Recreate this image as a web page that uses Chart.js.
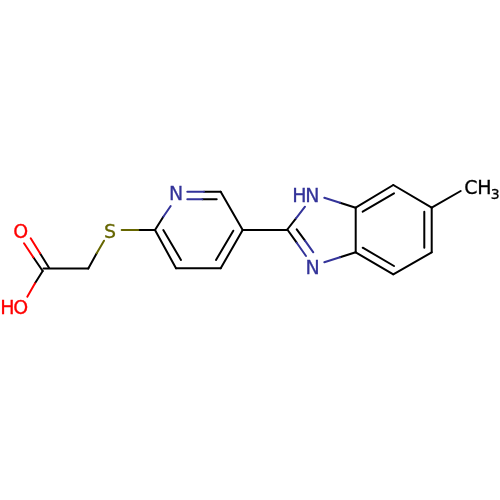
<!DOCTYPE html>
<html>
<head>
<meta charset="utf-8">
<script src="https://cdn.jsdelivr.net/npm/chart.js"></script>
<style>
  html, body { margin: 0; padding: 0; background: #fff; }
  canvas { display: block; }
</style>
</head>
<body>
<canvas id="myChart" width="500" height="500"></canvas>
<script>
// bonds, [x1, y1, x2, y2], one list per colour
const blackBonds = [
  [43.5, 268.5, 88.3, 268.5],
  [42.7, 271, 35, 283.3],
  [42.7, 271, 33.3, 257.3],
  [49, 267.7, 40, 253.3],
  [88.3, 268.5, 96.7, 253.3],
  [138.3, 230, 155, 230],
  [155, 230, 163.3, 216.7],
  [155, 230, 176, 268.3],
  [163.3, 230, 181, 260],
  [176, 268.3, 220.7, 268.3],
  [220.7, 268.3, 242.7, 230],
  [216, 260, 233.3, 230.7],
  [242.7, 230, 220.7, 191.7],
  [220.7, 191.7, 204, 191.7],
  [216.7, 199.3, 202.3, 199.3],
  [242.7, 230, 287.3, 230],
  [287.3, 229.5, 296, 218.3],
  [287.3, 229.5, 296.7, 242.7],
  [296.7, 229.3, 305, 240.7],
  [340, 202.7, 355.7, 207.7],
  [340, 257.3, 355.7, 252.3],
  [355.7, 207.7, 355.7, 252.3],
  [355.7, 207.7, 393.3, 185],
  [362.7, 211.7, 394, 193.3],
  [393.3, 185, 431.7, 207.7],
  [431.7, 207.7, 431.7, 252.3],
  [424.3, 211.7, 424.3, 247.7],
  [431.7, 252.3, 393.3, 274.3],
  [394, 266, 362.7, 247.7],
  [393.3, 274.3, 355.7, 252.3],
  [431.7, 207.7, 460.7, 191]
];
const blueBonds = [
  [163.3, 216.7, 170.7, 206],
  [187.3, 191.7, 204, 191.7],
  [187.3, 199.3, 202.3, 199.3],
  [296, 218.3, 305, 206.7],
  [296.7, 242.7, 306, 256],
  [305, 240.7, 313.3, 252.3],
  [324.3, 197.7, 340, 202.7],
  [324.3, 262.3, 340, 257.3]
];
const redBonds = [
  [24, 243.3, 33.3, 257.3],
  [30.7, 238.3, 40, 253.3],
  [35, 283.3, 27.3, 296.7]
];
const oliveBonds = [
  [96.7, 253.3, 104, 240.7],
  [121.7, 230, 138.3, 230]
];

// atom labels, [text, x, y] with y at the middle of the capital
const redLabels = [['O', 20.7, 231], ['H', 7.3, 307.3], ['O', 20.7, 307.3]];
const blueLabels = [['N', 176, 193], ['H', 299.3, 195], ['N', 312.3, 195], ['N', 312.7, 266.7]];
const oliveLabels = [['S', 110, 231]];
const blackLabels = [['C', 470.8, 187], ['H', 484.5, 187]];
const subscriptLabels = [['3', 495.3, 194]];

function bondDatasets(bonds, colour) {
  return bonds.map(b => ({
    data: [{x: b[0], y: b[1]}, {x: b[2], y: b[3]}],
    showLine: true,
    borderColor: colour,
    borderWidth: 2,
    borderCapStyle: 'round',
    pointRadius: 0
  }));
}

// draws the atom letters at their place on the scales
const atomLabels = {
  id: 'atomLabels',
  afterDatasetsDraw(chart) {
    const ctx = chart.ctx;
    const put = (list, colour, size) => {
      ctx.fillStyle = colour;
      ctx.strokeStyle = colour;
      ctx.lineWidth = 0.3;
      ctx.font = size + 'px "DejaVu Sans"';
      ctx.textAlign = 'center';
      ctx.textBaseline = 'alphabetic';
      list.forEach(l => {
        const x = chart.scales.x.getPixelForValue(l[1]);
        const y = chart.scales.y.getPixelForValue(l[2]) + size * 0.365;
        ctx.fillText(l[0], x, y);
        ctx.strokeText(l[0], x, y);
      });
    };
    ctx.save();
    put(redLabels, '#ff0000', 19);
    put(blueLabels, '#333399', 19);
    put(oliveLabels, '#666600', 19);
    put(blackLabels, '#000000', 19);
    put(subscriptLabels, '#000000', 14);
    ctx.restore();
  }
};

new Chart(document.getElementById('myChart'), {
  type: 'scatter',
  data: {
    datasets: [
      ...bondDatasets(blueBonds, '#333399'),
      ...bondDatasets(redBonds, '#ff0000'),
      ...bondDatasets(oliveBonds, '#666600'),
      ...bondDatasets(blackBonds, '#000000')
    ]
  },
  options: {
    responsive: false,
    animation: false,
    layout: { padding: 0 },
    plugins: { legend: { display: false }, tooltip: { enabled: false } },
    scales: {
      x: { type: 'linear', min: 0, max: 500, display: false },
      y: { type: 'linear', min: 0, max: 500, reverse: true, display: false }
    }
  },
  plugins: [atomLabels]
});
</script>
</body>
</html>
